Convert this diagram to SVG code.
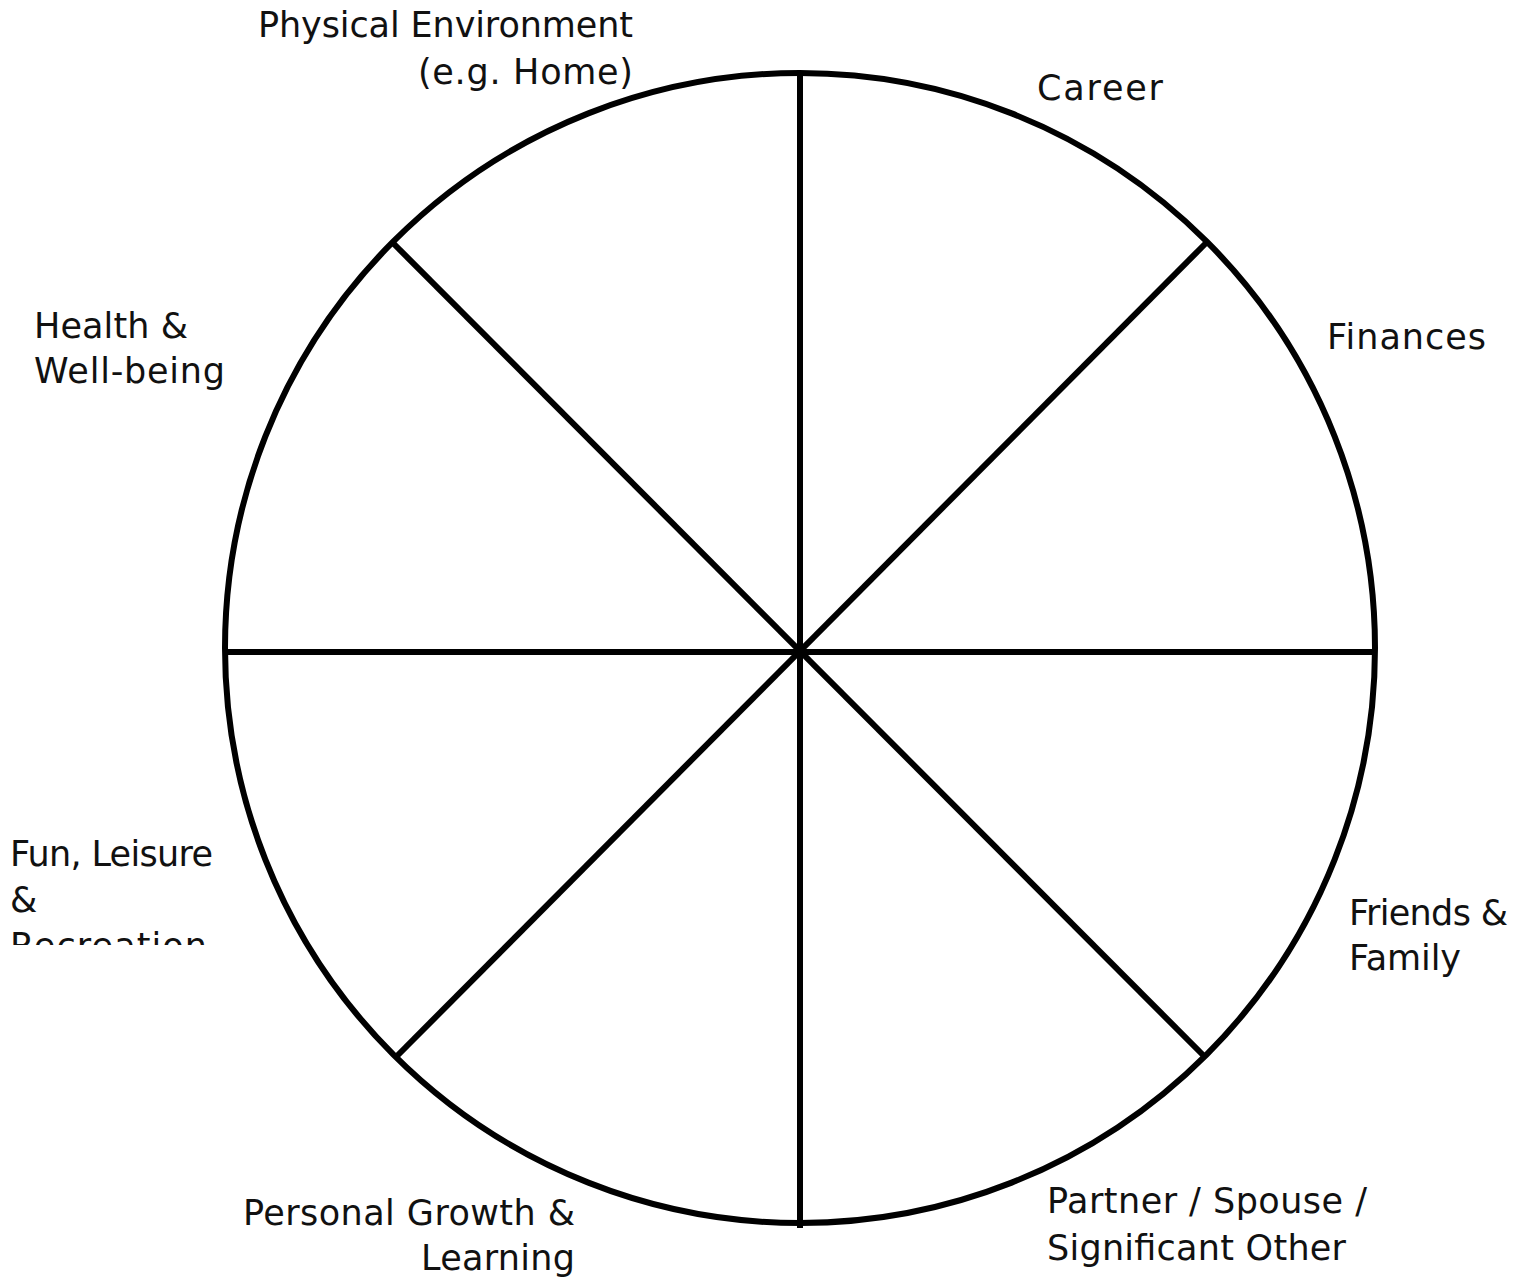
<svg xmlns="http://www.w3.org/2000/svg" width="1527" height="1277" viewBox="0 0 1527 1277">
<style>
.l{stroke:#000;stroke-width:6;fill:none}
text{font-family:"DejaVu Sans","Liberation Sans",Arial,sans-serif;font-size:35px;fill:#111}
.r{text-anchor:end}
</style>
<defs>
<clipPath id="fc"><rect x="0" y="820" width="260" height="125"/></clipPath>
</defs>
<rect width="1527" height="1277" fill="#fff"/>
<g id="wheel">
<circle class="l" cx="800" cy="648" r="575"/>
</g>
<g id="connectors">
<line class="l" x1="800" y1="76" x2="800" y2="1228"/>
<line class="l" x1="226" y1="652" x2="1374" y2="652"/>
<line class="l" x1="392" y1="242" x2="1205" y2="1057"/>
<line class="l" x1="1207" y1="242" x2="395" y2="1058"/>
</g>
<g id="physical"><text class="r" x="633" y="37" textLength="375">Physical Environment</text><text class="r" x="633" y="84" textLength="215">(e.g. Home)</text></g>
<g id="career"><text x="1037" y="100" textLength="126">Career</text></g>
<g id="finances"><text x="1327" y="349" textLength="159">Finances</text></g>
<g id="health"><text x="34" y="338" textLength="154">Health &amp;</text><text x="34" y="383" textLength="191">Well-being</text></g>
<g id="fun" clip-path="url(#fc)"><text x="10" y="866" textLength="203">Fun, Leisure</text><text x="10" y="912">&amp;</text><text x="10" y="958" textLength="197">Recreation</text></g>
<g id="friends"><text x="1349" y="925" textLength="159">Friends &amp;</text><text x="1349" y="970" textLength="112">Family</text></g>
<g id="partner"><text x="1047" y="1213" textLength="320">Partner / Spouse /</text><text x="1047" y="1260" textLength="299">Significant Other</text></g>
<g id="growth"><text class="r" x="575" y="1225" textLength="332">Personal Growth &amp;</text><text class="r" x="575" y="1270" textLength="154">Learning</text></g>
</svg>
